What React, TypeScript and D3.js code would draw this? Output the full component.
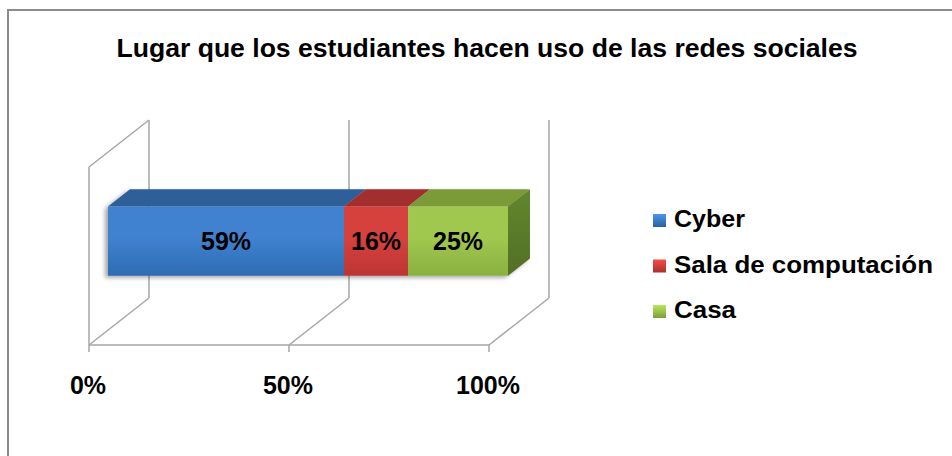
import React from "react";
import * as d3 from "d3";

const title = "Lugar que los estudiantes hacen uso de las redes sociales";
const categories = ["Lugar"];
const seriesNames = ["Cyber", "Sala de computación", "Casa"];
const seriesValues = [0.59, 0.16, 0.25];
const seriesLabels = ["59%", "16%", "25%"];
const tickValues = [0, 0.5, 1];
const tickLabels = ["0%", "50%", "100%"];

const W = 952;
const H = 456;
const FONT = "'Liberation Sans', Arial, sans-serif";

const frontColors = [
  ["#3F82D0", "#2F6BB3"],
  ["#D6413E", "#BC3533"],
  ["#A0C84F", "#8AB040"],
];
const topColors = ["#2D5E98", "#A32F2D", "#7A9B38"];
const sideColors = ["#24497A", "#7E2422", "#5B7B2A"];
const legendWidths = [71, 259, 62];

export default function App() {
  const DX = 60;
  const DY = -47;
  const x = d3.scaleLinear().domain([0, 1]).range([89, 489]);
  const y = d3.scaleLinear().domain([0, 1]).range([345, 167]);
  const band = d3.scaleBand<string>().domain(categories).range([0, 1]).padding(0.44);
  const f1 = 0.317;
  const f2 = 0.683;

  const P = (xv: number, yv: number, d: number): [number, number] => [
    x(xv) + DX * d,
    y(yv) + DY * d,
  ];
  const poly = (pts: [number, number][]) => (d3.line()(pts) as string) + "Z";

  const stack = d3
    .stack<number[]>()
    .keys(seriesNames.map((_, i) => String(i)))
    .value((d, k) => d[+k]);
  const stacked = stack([seriesValues]);

  const cat = categories[0];
  const b0 = band(cat) as number;
  const b1 = b0 + band.bandwidth();

  const grid = "#A6A6A6";

  return (
    <svg width={W} height={H} style={{ position: "absolute", left: 0, top: 0, background: "#fff" }}>
      <defs>
        {frontColors.map((c, i) => (
          <linearGradient key={i} id={`front${i}`} x1="0" y1="0" x2="0" y2="1">
            <stop offset="0" stopColor={c[0]} />
            <stop offset="0.45" stopColor={c[0]} />
            <stop offset="1" stopColor={c[1]} />
          </linearGradient>
        ))}
        {sideColors.map((c, i) => (
          <linearGradient key={i} id={`side${i}`} x1="0" y1="0" x2="0" y2="1">
            <stop offset="0" stopColor={d3.color(c)!.brighter(0.25).toString()} />
            <stop offset="1" stopColor={d3.color(c)!.darker(0.3).toString()} />
          </linearGradient>
        ))}
        {frontColors.map((c, i) => (
          <linearGradient key={i} id={`leg${i}`} x1="0" y1="0" x2="0" y2="1">
            <stop offset="0" stopColor={d3.color(c[0])!.brighter(0.4).toString()} />
            <stop offset="1" stopColor={d3.color(c[1])!.darker(0.3).toString()} />
          </linearGradient>
        ))}
        <filter id="shadow" x="-20%" y="-40%" width="140%" height="180%">
          <feDropShadow dx="-3" dy="2" stdDeviation="2" floodColor="#000" floodOpacity="0.35" />
        </filter>
      </defs>

      <rect x={8} y={10} width={W + 20} height={H + 20} fill="#fff" stroke="#8C8C8C" strokeWidth={2} />

      <text
        x={487}
        y={57}
        textAnchor="middle"
        fontFamily={FONT}
        fontWeight="bold"
        fontSize={25}
        textLength={741}
        lengthAdjust="spacingAndGlyphs"
        fill="#000"
      >
        {title}
      </text>

      <g stroke={grid} strokeWidth={1.5} fill="none">
        {tickValues.map((t, i) => {
          const a = P(t, 0, 1);
          const bb = P(t, 1, 1);
          return <line key={`bg${i}`} x1={a[0]} y1={a[1]} x2={bb[0]} y2={bb[1]} />;
        })}
        {tickValues.map((t, i) => {
          const a = P(t, 0, 0);
          const bb = P(t, 0, 1);
          return <line key={`fd${i}`} x1={a[0]} y1={a[1]} x2={bb[0]} y2={bb[1]} />;
        })}
        <path d={(d3.line()([P(0, 0, 0), P(0, 1, 0), P(0, 1, 1)]) as string)} />
        <line x1={x(0)} y1={y(0)} x2={x(1)} y2={y(0)} />
        {tickValues.map((t, i) => (
          <line key={`tk${i}`} x1={x(t)} y1={y(0)} x2={x(t)} y2={y(0) + 7} />
        ))}
      </g>

      <g filter="url(#shadow)">
        {stacked.map((s, i) => {
          const v0 = s[0][0];
          const v1 = s[0][1];
          const top = poly([P(v0, b1, f1), P(v1, b1, f1), P(v1, b1, f2), P(v0, b1, f2)]);
          const front = poly([P(v0, b0, f1), P(v1, b0, f1), P(v1, b1, f1), P(v0, b1, f1)]);
          return (
            <g key={i}>
              <path d={top} fill={topColors[i]} />
              <path d={front} fill={`url(#front${i})`} />
            </g>
          );
        })}
        {(() => {
          const last = stacked.length - 1;
          const v1 = stacked[last][0][1];
          const side = poly([P(v1, b0, f1), P(v1, b1, f1), P(v1, b1, f2), P(v1, b0, f2)]);
          return <path d={side} fill={`url(#side${last})`} />;
        })()}
      </g>

      {stacked.map((s, i) => {
        const v0 = s[0][0];
        const v1 = s[0][1];
        const a = P((v0 + v1) / 2, (b0 + b1) / 2, f1);
        return (
          <text
            key={i}
            x={a[0]}
            y={a[1] + 9}
            textAnchor="middle"
            fontFamily={FONT}
            fontWeight="bold"
            fontSize={25}
            fill="#000"
          >
            {seriesLabels[i]}
          </text>
        );
      })}

      {tickValues.map((t, i) => (
        <text
          key={i}
          x={x(t) - 1}
          y={394}
          textAnchor="middle"
          fontFamily={FONT}
          fontWeight="bold"
          fontSize={25}
          fill="#000"
        >
          {tickLabels[i]}
        </text>
      ))}

      {seriesNames.map((n, i) => {
        const yy = 227 + i * 45.5;
        return (
          <g key={i}>
            <rect x={653} y={yy - 13} width={13} height={13} fill={`url(#leg${i})`} />
            <text
              x={674}
              y={yy}
              fontFamily={FONT}
              fontWeight="bold"
              fontSize={23}
              textLength={legendWidths[i]}
              lengthAdjust="spacingAndGlyphs"
              fill="#000"
            >
              {n}
            </text>
          </g>
        );
      })}
    </svg>
  );
}
